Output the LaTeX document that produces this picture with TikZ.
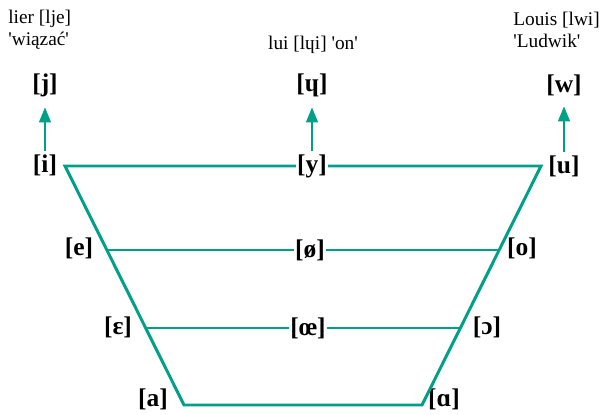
\documentclass[tikz,border=0pt]{standalone}
\usepackage{fontspec}
\setmainfont{Liberation Serif}[Ligatures=TeXOff]
\usetikzlibrary{arrows.meta, positioning}
\definecolor{vwlteal}{HTML}{00A088}
\tikzset{
  vowel/.style={inner sep=1pt, font=\fontsize{14.5}{16}\selectfont\bfseries},
  midvowel/.style={vowel, fill=white, inner sep=0.5pt},
  gloss/.style={inner sep=0pt, font=\fontsize{11}{12.5}\selectfont, align=left},
  edge/.style={line width=1.7pt, vwlteal, line join=miter},
  glide/.style={-{Triangle[length=3mm, width=2.4mm]}, line width=0.8pt, vwlteal, shorten >=5pt, shorten <=1pt},
}

\begin{document}
\begin{tikzpicture}[x=0.02cm, y=-0.02cm]
    \useasboundingbox (0,0) rectangle (602,415);
    % corners of the trapezoid
    \coordinate (tl) at (65,166);
    \coordinate (tr) at (541,166);
    \coordinate (bl) at (184,405);
    \coordinate (br) at (422,405);
    \coordinate (front2) at (107,250);
    \coordinate (back2) at (500,250);
    \coordinate (front3) at (146,328);
    \coordinate (back3) at (461,328);

    \node[vowel] (i) at (45,165) {[i]};
    \node[midvowel] (y) at (312,166) {[y]};
    \node[vowel] (u) at (564,166) {[u]};
    \node[vowel] (e) at (79,248) {[e]};
    \node[midvowel] (oslash) at (310,250) {[ø]};
    \node[vowel] (o) at (522,248) {[o]};
    \node[vowel] (eps) at (118,327) {[ɛ]};
    \node[midvowel] (oe) at (308,328) {[œ]};
    \node[vowel] (openo) at (487,327) {[ɔ]};
    \node[vowel] (a) at (153,399) {[a]};
    \node[vowel] (alpha) at (444,399) {[ɑ]};

    \node[vowel] (j) at (45,85) {[j]};
    \node[vowel] (turnh) at (312,85) {[ɥ]};
    \node[vowel] (w) at (564,85) {[w]};

    \node[gloss, anchor=west] (lier) at (8,30) {lier [lje]\\'wiązać'};
    \node[gloss] (lui) at (313,45) {lui [lɥi] 'on'};
    \node[gloss, anchor=west] (louis) at (513,30) {Louis [lwi]\\'Ludwik'};

    \draw[edge] (y) -- (tl) -- (bl) -- (br) -- (tr) -- (y);
    \draw[edge] (front2) -- (oslash) -- (back2);
    \draw[edge] (front3) -- (oe) -- (back3);

    \draw[glide] (i) -- (j);
    \draw[glide] (y) -- (turnh);
    \draw[glide] (u) -- (w);
\end{tikzpicture}
\end{document}
